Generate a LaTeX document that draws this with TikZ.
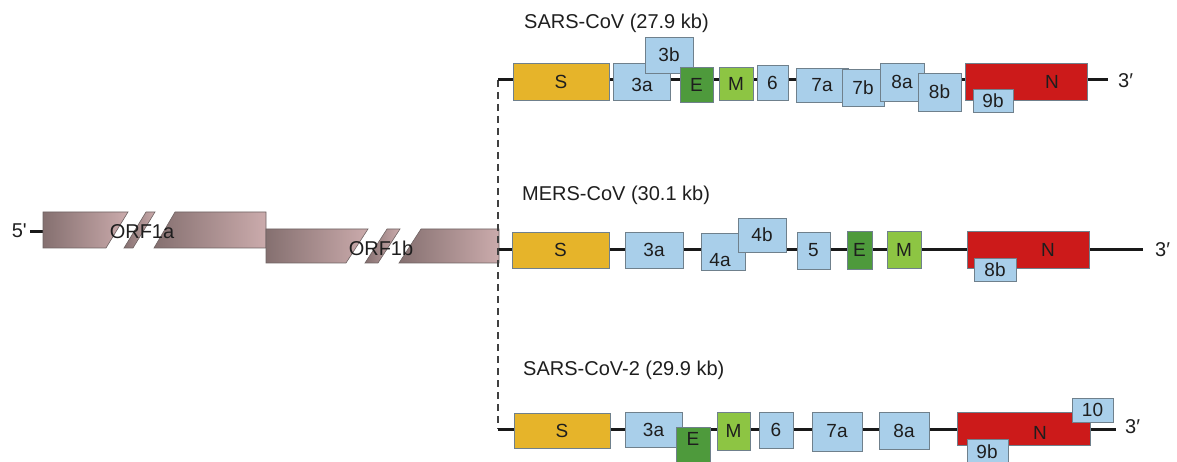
\documentclass[tikz,border=0pt]{standalone}
\usepackage{fontspec}
\setmainfont{Liberation Sans}
\definecolor{sgold}{HTML}{E6B42A}
\definecolor{gblue}{HTML}{A9CFEA}
\definecolor{nred}{HTML}{CC1A1A}
\definecolor{edark}{HTML}{4E9A3C}
\definecolor{mlight}{HTML}{8DC543}
\definecolor{bord}{HTML}{6F808C}
\definecolor{txt}{HTML}{1E1E1E}
\definecolor{orfdark}{HTML}{857070}
\definecolor{orflight}{HTML}{CBABAC}
\definecolor{orfbord}{HTML}{6E6262}
\tikzset{
  genebox/.style={rectangle, draw=bord, line width=0.7pt, inner sep=0pt, text=txt,
    font=\fontsize{19}{19}\selectfont},
  gold/.style={fill=sgold},
  blue/.style={fill=gblue},
  red/.style={fill=nred},
  edk/.style={fill=edark},
  mlt/.style={fill=mlight},
  glabel/.style={text=txt, inner sep=0pt, font=\fontsize{19}{19}\selectfont},
  title/.style={text=txt, inner sep=0pt, anchor=base west, font=\fontsize{20}{20}\selectfont},
  endlabel/.style={text=txt, inner sep=0pt, anchor=west, font=\fontsize{20}{20}\selectfont},
  genome/.style={line width=3pt, draw=black!90},
  orf/.style={draw=orfbord, line width=0.6pt, left color=orfdark, right color=orflight},
  orflabel/.style={text=txt, inner sep=0pt, font=\fontsize{20}{20}\selectfont},
  dashline/.style={line width=1.8pt, draw=black!75, dash pattern=on 7pt off 5pt}
}
% name, x1, y1, x2, y2, style, text (centred)
\newcommand\gene[7]{\node[genebox,#6,minimum width={(#4-#2)*1pt},minimum height={(#5-#3)*1pt}] (#1) at ({(#2+#4)/2},{(#3+#5)/2}) {#7};}
% name, x1, y1, x2, y2, style, text, text x, text y
\newcommand\genet[9]{\node[genebox,#6,minimum width={(#4-#2)*1pt},minimum height={(#5-#3)*1pt}] (#1) at ({(#2+#4)/2},{(#3+#5)/2}) {};
\node[glabel] (#1-t) at (#8,#9) {#7};}
\begin{document}
\begin{tikzpicture}[x=1pt,y=-1pt]
\useasboundingbox (0,0) rectangle (1177,462);

% ---------- ORF1a / ORF1b ----------
\coordinate (fivestart) at (30,232);
\coordinate (fiveend) at (44,232);
\draw[genome] (fivestart) -- (fiveend);
\node[endlabel, anchor=east] (five) at (27,231) {5\textquotesingle};
\shade[orf] (43,212) -- (128,212) -- (106,248) -- (43,248) -- cycle;
\shade[orf] (146,212) -- (155,212) -- (133,248) -- (124,248) -- cycle;
\shade[orf] (175,212) -- (266,212) -- (266,248) -- (154,248) -- cycle;
\shade[orf] (266,229) -- (368,229) -- (346,263) -- (266,263) -- cycle;
\shade[orf] (387,229) -- (400,229) -- (378,263) -- (365,263) -- cycle;
\shade[orf] (421,229) -- (499,229) -- (499,263) -- (399,263) -- cycle;
\node[orflabel] (orf1a) at (142,232) {ORF1a};
\node[orflabel] (orf1b) at (381,248) {ORF1b};

% ---------- genome lines ----------
\coordinate (s1start) at (498,80);
\coordinate (s1end) at (1108,80);
\coordinate (m1start) at (499,250);
\coordinate (m1end) at (1143,250);
\coordinate (s2start) at (498,429);
\coordinate (s2end) at (1116,429);
\draw[dashline] (s1start) -- (s2start);
\draw[genome] (s1start) -- (s1end);
\draw[genome] (m1start) -- (m1end);
\draw[genome] (s2start) -- (s2end);

% ---------- SARS-CoV ----------
\node[title] (t1) at (524,29) {SARS-CoV (27.9 kb)};
\gene{a-S}{513}{63}{609}{100}{gold}{S}
\genet{a-3a}{613}{63}{670}{100}{blue}{3a}{642}{85}
\gene{a-3b}{645}{37}{693}{73}{blue}{3b}
\gene{a-E}{680}{67}{713}{102}{edk}{E}
\gene{a-M}{719}{67}{753}{100}{mlt}{M}
\gene{a-6}{757}{65}{788}{100}{blue}{6}
\gene{a-7a}{796}{68}{848}{102}{blue}{7a}
\gene{a-7b}{842}{69}{884}{106}{blue}{7b}
\gene{a-8a}{880}{63}{924}{101}{blue}{8a}
\gene{a-8b}{918}{73}{961}{111}{blue}{8b}
\genet{a-N}{965}{63}{1087}{100}{red}{N}{1052}{82}
\gene{a-9b}{973}{89}{1013}{112}{blue}{9b}
\node[endlabel] (a-3p) at (1118,81) {3′};

% ---------- MERS-CoV ----------
\node[title] (t2) at (522,201) {MERS-CoV (30.1 kb)};
\gene{b-S}{512}{232}{609}{268}{gold}{S}
\gene{b-3a}{625}{232}{683}{268}{blue}{3a}
\genet{b-4a}{701}{233}{745}{270}{blue}{4a}{720}{260}
\gene{b-4b}{738}{218}{786}{252}{blue}{4b}
\gene{b-5}{797}{232}{830}{269}{blue}{5}
\gene{b-E}{847}{231}{872}{269}{edk}{E}
\gene{b-M}{887}{231}{921}{268}{mlt}{M}
\genet{b-N}{967}{231}{1089}{268}{red}{N}{1048}{250}
\gene{b-8b}{974}{258}{1016}{281}{blue}{8b}
\node[endlabel] (b-3p) at (1155,250) {3′};

% ---------- SARS-CoV-2 ----------
\node[title] (t3) at (523,375) {SARS-CoV-2 (29.9 kb)};
\gene{c-S}{514}{413}{610}{448}{gold}{S}
\gene{c-3a}{625}{412}{682}{447}{blue}{3a}
\genet{c-E}{676}{427}{710}{465}{edk}{E}{693}{439}
\gene{c-M}{717}{412}{750}{450}{mlt}{M}
\gene{c-6}{759}{412}{793}{448}{blue}{6}
\gene{c-7a}{812}{412}{862}{451}{blue}{7a}
\gene{c-8a}{879}{412}{929}{449}{blue}{8a}
\genet{c-N}{957}{412}{1090}{445}{red}{N}{1040}{433}
\gene{c-10}{1072}{398}{1113}{422}{blue}{10}
\genet{c-9b}{967}{439}{1008}{465}{blue}{9b}{987}{452}
\node[endlabel] (c-3p) at (1125,427) {3′};
\end{tikzpicture}
\end{document}
